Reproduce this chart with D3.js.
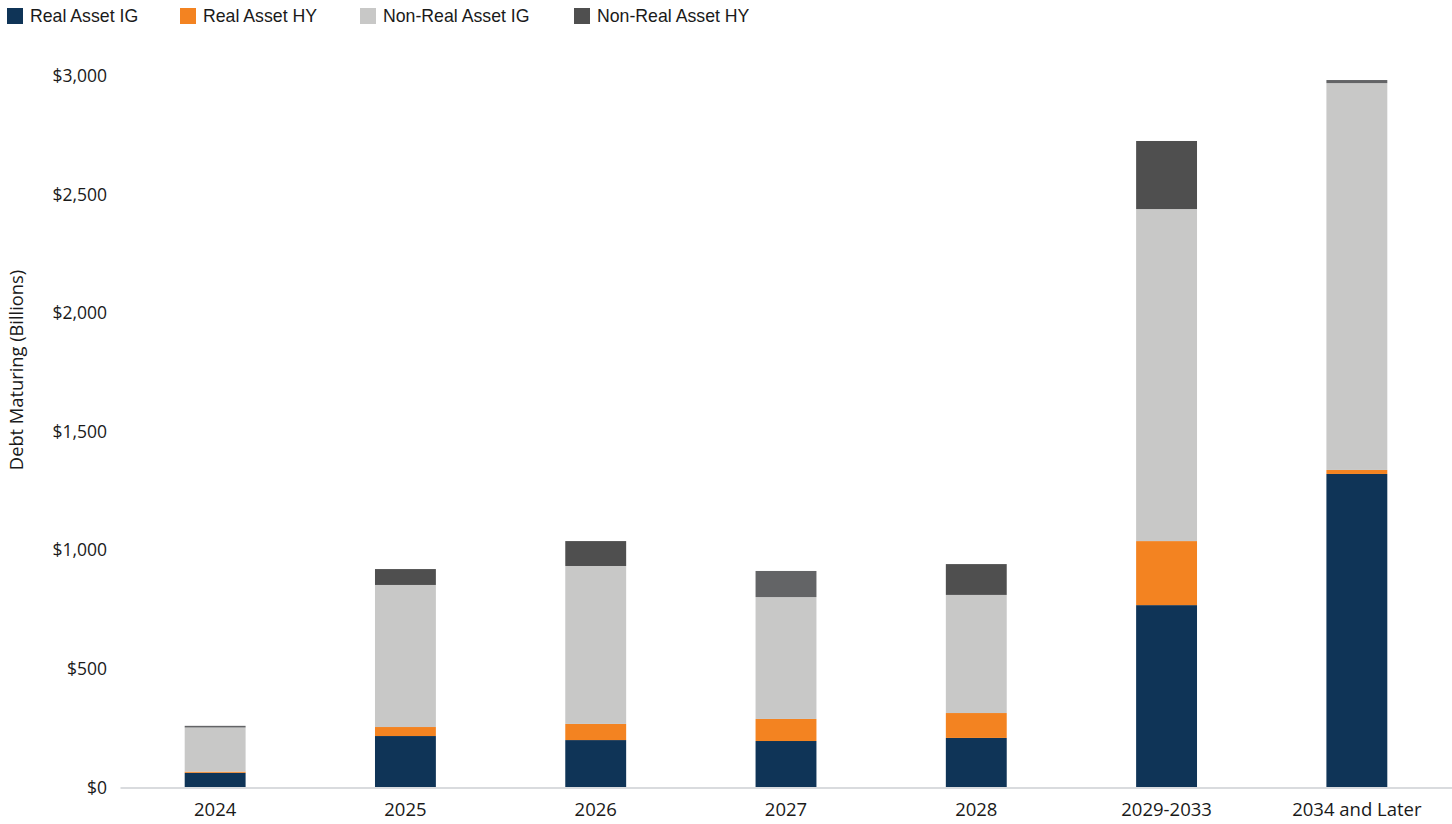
<!DOCTYPE html>
<html>
<head>
<meta charset="utf-8">
<script src="https://cdn.jsdelivr.net/npm/d3@7"></script>
<style>
  body { margin: 0; background: #fff; }
  text { font-family: "Liberation Sans", Arial, sans-serif; fill: #1a1a1a; }
  .axis text, .axis-title { font-family: "Open Sans", sans-serif; }
</style>
</head>
<body>
<div id="chart"></div>
<script>
// Data (billions USD)
const categories = ["2024", "2025", "2026", "2027", "2028", "2029-2033", "2034 and Later"];
const realAssetIG = [62, 217, 200, 196, 209, 769, 1322];
const realAssetHY = [5, 38, 68, 93, 105, 270, 17];
const nonRealAssetIG = [186, 599, 666, 514, 498, 1400, 1631];
const nonRealAssetHY = [7, 67, 105, 110, 130, 287, 13];
const seriesNames = ["Real Asset IG", "Real Asset HY", "Non-Real Asset IG", "Non-Real Asset HY"];
const yTicks = [0, 500, 1000, 1500, 2000, 2500, 3000];

const colors = ["#0f3457", "#f38321", "#c8c8c7", "#4f4f4f"];
// a few top segments are drawn in a lighter grey in the original
const topOverride = { "2024": "#636466", "2027": "#636466", "2034 and Later": "#636466" };

const width = 1452, height = 824;
const margin = { top: 76, right: 0, bottom: 36.5, left: 120 };

const svg = d3.select("#chart")
  .append("svg")
  .attr("width", width)
  .attr("height", height);

const table = categories.map((c, i) => ({
  cat: c,
  "Real Asset IG": realAssetIG[i],
  "Real Asset HY": realAssetHY[i],
  "Non-Real Asset IG": nonRealAssetIG[i],
  "Non-Real Asset HY": nonRealAssetHY[i]
}));

const stack = d3.stack().keys(seriesNames)(table);

const x = d3.scaleBand()
  .domain(categories)
  .range([margin.left, width - margin.right])
  .paddingInner(0.68)
  .paddingOuter(0.34);

const y = d3.scaleLinear()
  .domain([0, 3000])
  .range([height - margin.bottom, margin.top]);

// Bars
svg.append("g")
  .selectAll("g")
  .data(stack)
  .join("g")
  .each(function (layer, li) {
    d3.select(this).selectAll("rect")
      .data(layer)
      .join("rect")
      .attr("x", d => x(d.data.cat))
      .attr("width", x.bandwidth())
      .attr("y", d => y(d[1]))
      .attr("height", d => y(d[0]) - y(d[1]))
      .attr("fill", d => (li === 3 && topOverride[d.data.cat]) ? topOverride[d.data.cat] : colors[li]);
  });

// X axis
const xAxis = svg.append("g")
  .attr("class", "axis")
  .attr("transform", "translate(0," + y(0) + ")")
  .call(d3.axisBottom(x).tickSize(0).tickPadding(15));
xAxis.select(".domain").attr("stroke", "#d9dbde").attr("stroke-width", 2);
xAxis.selectAll("text").style("font-size", "18.5px").attr("fill", "#1a1a1a");

// Y axis (labels only)
const yAxis = svg.append("g")
  .attr("class", "axis")
  .attr("transform", "translate(" + (margin.left - 13) + ",0)")
  .call(d3.axisLeft(y).tickValues(yTicks).tickSize(0).tickPadding(0)
    .tickFormat(d => "$" + d3.format(",")(d)));
yAxis.select(".domain").remove();
yAxis.selectAll("text").style("font-size", "17.5px").attr("fill", "#1a1a1a");

// Y axis title
svg.append("text")
  .attr("class", "axis-title")
  .attr("text-anchor", "middle")
  .attr("transform", "translate(23,370)rotate(-90)")
  .style("font-size", "18.3px")
  .text("Debt Maturing (Billions)");

// Legend
const legendX = [7, 180, 360, 574];
const legend = svg.append("g")
  .selectAll("g")
  .data(seriesNames)
  .join("g")
  .attr("transform", (d, i) => "translate(" + legendX[i] + ",8)");

legend.append("rect")
  .attr("width", 16)
  .attr("height", 16)
  .attr("fill", (d, i) => colors[i]);

legend.append("text")
  .attr("x", 23)
  .attr("y", 14)
  .style("font-size", "17.7px")
  .text(d => d);
</script>
</body>
</html>
